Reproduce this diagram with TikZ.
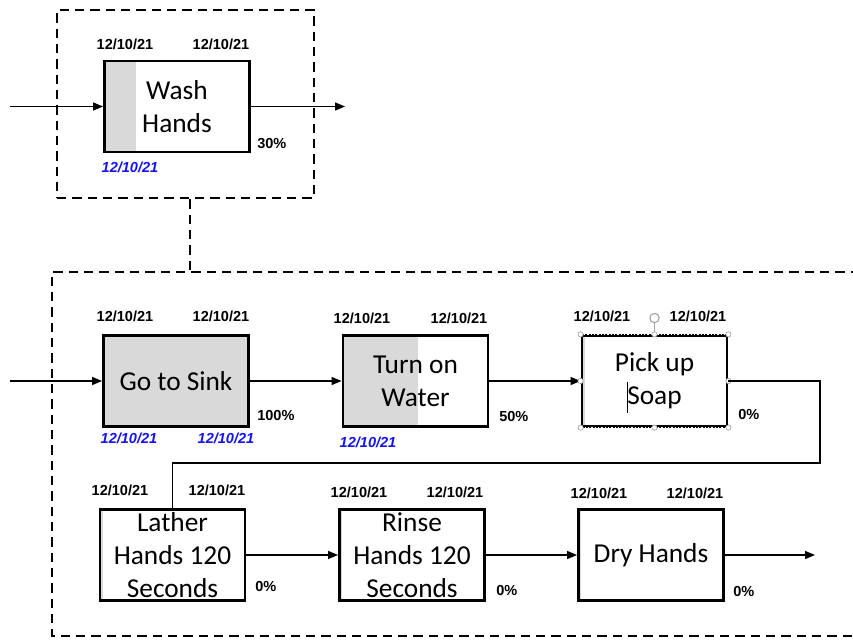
\documentclass[tikz,border=0pt]{standalone}
\usepackage{fontspec}
\setmainfont{Carlito}
\newfontfamily\datefont{Liberation Sans}
\usetikzlibrary{arrows.meta}
\definecolor{barfill}{RGB}{217,217,217}
\definecolor{planblue}{RGB}{20,20,240}
\definecolor{handlegray}{RGB}{160,160,160}
\tikzset{
  px/.style={x=0.75pt,y=-0.75pt},
  task/.style={draw=black,line width=1.9pt,minimum width=109pt,minimum height=68pt,
    inner sep=0pt,align=center,font=\fontsize{20.5}{24.7}\selectfont},
  done/.style={path picture={\fill[barfill] (path picture bounding box.south west)
    rectangle ([xshift=#1]path picture bounding box.north west);}},
  datelbl/.style={font=\datefont\bfseries\fontsize{10.9}{12}\selectfont,inner sep=0pt},
  planlbl/.style={font=\datefont\bfseries\itshape\fontsize{10.9}{12}\selectfont,text=planblue,inner sep=0pt},
  pctlbl/.style={font=\datefont\bfseries\fontsize{10.9}{12}\selectfont,inner sep=0pt,anchor=west},
  flow/.style={line width=1pt,-{Triangle[length=7.5pt,width=6pt]}},
  link/.style={line width=1pt},
  frame/.style={line width=1.8pt,dash pattern=on 7pt off 4.5pt},
  handle/.style={circle,draw=handlegray,fill=white,line width=0.5pt,inner sep=0pt,minimum size=4pt}
}
\begin{document}
\begin{tikzpicture}[px]
\useasboundingbox (0,0) rectangle (853,639);

% summary group
\node[frame,draw,minimum width=192.75pt,minimum height=141pt,inner sep=0pt] (frame1) at (185.5,104) {};
\node[task,done=24pt] (wash) at (177,106.5) {Wash\\Hands};
\coordinate (in1) at (10,106.5);
\coordinate (out1) at (345,106.5);
\draw[flow] (in1) -- (wash.west);
\draw[flow] (wash.east) -- (out1);
\node[datelbl] (w1) at (125,44) {12/10/21};
\node[datelbl] (w2) at (221,44) {12/10/21};
\node[pctlbl] (wp) at (257,144) {30\%};
\node[planlbl] (wb) at (130,167) {12/10/21};

% detail group frame (runs off to the right)
\coordinate (fa) at (860,272);
\coordinate (fb) at (52,272);
\coordinate (fc) at (52,636);
\coordinate (fd) at (860,636);
\draw[frame] (fa) -- (fb) -- (fc) -- (fd);
\coordinate (lk) at (190,272);
\draw[frame] (frame1.south -| lk) -- (lk);

% first row
\node[task,done=111pt] (sink) at (176,381) {Go to Sink};
\node[task,done=56pt] (water) at (415.5,381) {Turn on\\Water};
\node[task,done=2.2pt] (soap) at (654.5,381) {Pick up\\Soap};
\coordinate (in2) at (10,381);
\draw[flow] (in2) -- (sink.west);
\draw[flow] (sink.east) -- (water.west);
\draw[flow] (water.east) -- (soap.west);

\node[datelbl] (s1) at (125,316) {12/10/21};
\node[datelbl] (s2) at (221,316) {12/10/21};
\node[pctlbl] (sp) at (257,415) {100\%};
\node[planlbl] (sb1) at (129,438) {12/10/21};
\node[planlbl] (sb2) at (226,438) {12/10/21};

\node[datelbl] (t1) at (362,318) {12/10/21};
\node[datelbl] (t2) at (459,318) {12/10/21};
\node[pctlbl] (tp) at (499,416) {50\%};
\node[planlbl] (tb) at (368,442) {12/10/21};

\node[datelbl] (p1) at (602,316) {12/10/21};
\node[datelbl] (p2) at (698,316) {12/10/21};
\node[pctlbl] (pp) at (738,414) {0\%};

% selection handles and text caret on the active task
\draw[white,line width=0.6pt,dash pattern=on 1pt off 1.5pt] (soap.south west) rectangle (soap.north east);
\node[circle,draw=handlegray,line width=0.8pt,inner sep=0pt,minimum size=7pt] (rot) at (654.5,318) {};
\draw[handlegray,line width=0.6pt] (rot.south) -- (soap.north);
\foreach \a [count=\i] in {north west,north,north east,east,south east,south,south west,west}
  \node[handle] (h\i) at (soap.\a) {};
\coordinate (cr1) at (627.5,382);
\coordinate (cr2) at (627.5,413);
\draw[black,line width=0.5pt] (cr1) -- (cr2);

% wrap to second row
\coordinate (wrap) at (820,463);
\node[task,done=2.2pt] (lather) at (172.5,555) {Lather\\Hands 120\\Seconds};
\draw[link] (soap.east) -| (wrap) -| (lather.north);

% second row
\node[task,done=2.2pt] (rinse) at (412,555) {Rinse\\Hands 120\\Seconds};
\node[task,done=2.2pt] (dry) at (651,555) {Dry Hands};
\coordinate (out2) at (815,555);
\draw[flow] (lather.east) -- (rinse.west);
\draw[flow] (rinse.east) -- (dry.west);
\draw[flow] (dry.east) -- (out2);

\node[datelbl] (l1) at (120,490) {12/10/21};
\node[datelbl] (l2) at (217,490) {12/10/21};
\node[pctlbl] (lp) at (255,586) {0\%};

\node[datelbl] (r1) at (359,492) {12/10/21};
\node[datelbl] (r2) at (455,492) {12/10/21};
\node[pctlbl] (rp) at (496,590) {0\%};

\node[datelbl] (d1) at (599,493) {12/10/21};
\node[datelbl] (d2) at (695,493) {12/10/21};
\node[pctlbl] (dp) at (733,591) {0\%};
\end{tikzpicture}
\end{document}
